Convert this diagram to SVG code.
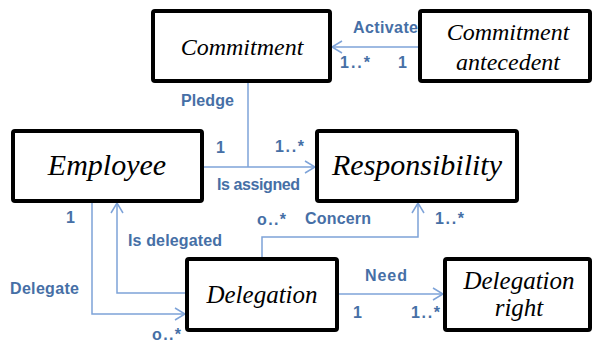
<svg xmlns="http://www.w3.org/2000/svg" width="592" height="344" viewBox="0 0 592 344">
<defs>
<style>
.box{fill:#fff;stroke:#000;stroke-width:4}
.nt{font-family:'Liberation Serif','Times New Roman',serif;font-style:italic;fill:#000;text-anchor:middle}
.ln{fill:none;stroke:#7EA3D8;stroke-width:1.5}
.lb{font-family:'Liberation Sans',Arial,sans-serif;font-weight:bold;font-size:16px;fill:#466FA6}
</style>
<marker id="arr" viewBox="0 0 12 14" refX="11" refY="7" markerWidth="12" markerHeight="14" markerUnits="userSpaceOnUse" orient="auto">
<path d="M1,1 L11,7 L1,13" fill="none" stroke="#7EA3D8" stroke-width="1.5"/>
</marker>
</defs>
<g id="connectors">
<path class="ln" d="M419,47 H332" marker-end="url(#arr)"/>
<path class="ln" d="M248,82 V167"/>
<path class="ln" d="M202,167 H315" marker-end="url(#arr)"/>
<path class="ln" d="M262,258 V237 H418 V203" marker-end="url(#arr)"/>
<path class="ln" d="M337,294 H443" marker-end="url(#arr)"/>
<path class="ln" d="M92,201 V314 H185" marker-end="url(#arr)"/>
<path class="ln" d="M187,293 H117 V203" marker-end="url(#arr)"/>
<text class="lb" x="353" y="33" textLength="65">Activate</text>
<text class="lb" x="340" y="68" textLength="30">1..*</text>
<text class="lb" x="398" y="68">1</text>
<text class="lb" x="181" y="106" textLength="53">Pledge</text>
<text class="lb" x="216" y="153">1</text>
<text class="lb" x="275" y="152" textLength="29">1..*</text>
<text class="lb" x="217" y="190" textLength="83">Is assigned</text>
<text class="lb" x="257" y="225" textLength="29">o..*</text>
<text class="lb" x="305" y="224" textLength="66">Concern</text>
<text class="lb" x="435" y="224" textLength="29">1..*</text>
<text class="lb" x="66" y="223">1</text>
<text class="lb" x="128" y="246" textLength="94">Is delegated</text>
<text class="lb" x="10" y="294" textLength="69">Delegate</text>
<text class="lb" x="152" y="340" textLength="29">o..*</text>
<text class="lb" x="365" y="281" textLength="42">Need</text>
<text class="lb" x="353" y="318">1</text>
<text class="lb" x="411" y="318" textLength="29">1..*</text>
</g>
<g id="commitment">
<rect class="box" x="153" y="11" width="177" height="70" rx="2"/>
<text class="nt" x="242" y="55" font-size="24">Commitment</text>
</g>
<g id="commitment-antecedent">
<rect class="box" x="420" y="11" width="170" height="70" rx="2"/>
<text class="nt" x="508" y="40" font-size="24">Commitment</text>
<text class="nt" x="508" y="70" font-size="24">antecedent</text>
</g>
<g id="employee">
<rect class="box" x="13" y="131" width="189" height="70" rx="2"/>
<text class="nt" x="107" y="175" font-size="30">Employee</text>
</g>
<g id="responsibility">
<rect class="box" x="317" y="131" width="200" height="70" rx="2"/>
<text class="nt" x="417" y="175" font-size="30">Responsibility</text>
</g>
<g id="delegation">
<rect class="box" x="187" y="259" width="150" height="71" rx="2"/>
<text class="nt" x="262" y="303" font-size="25">Delegation</text>
</g>
<g id="delegation-right">
<rect class="box" x="445" y="259" width="145" height="71" rx="2"/>
<text class="nt" x="519" y="289" font-size="25">Delegation</text>
<text class="nt" x="519" y="316" font-size="25">right</text>
</g>
</svg>
